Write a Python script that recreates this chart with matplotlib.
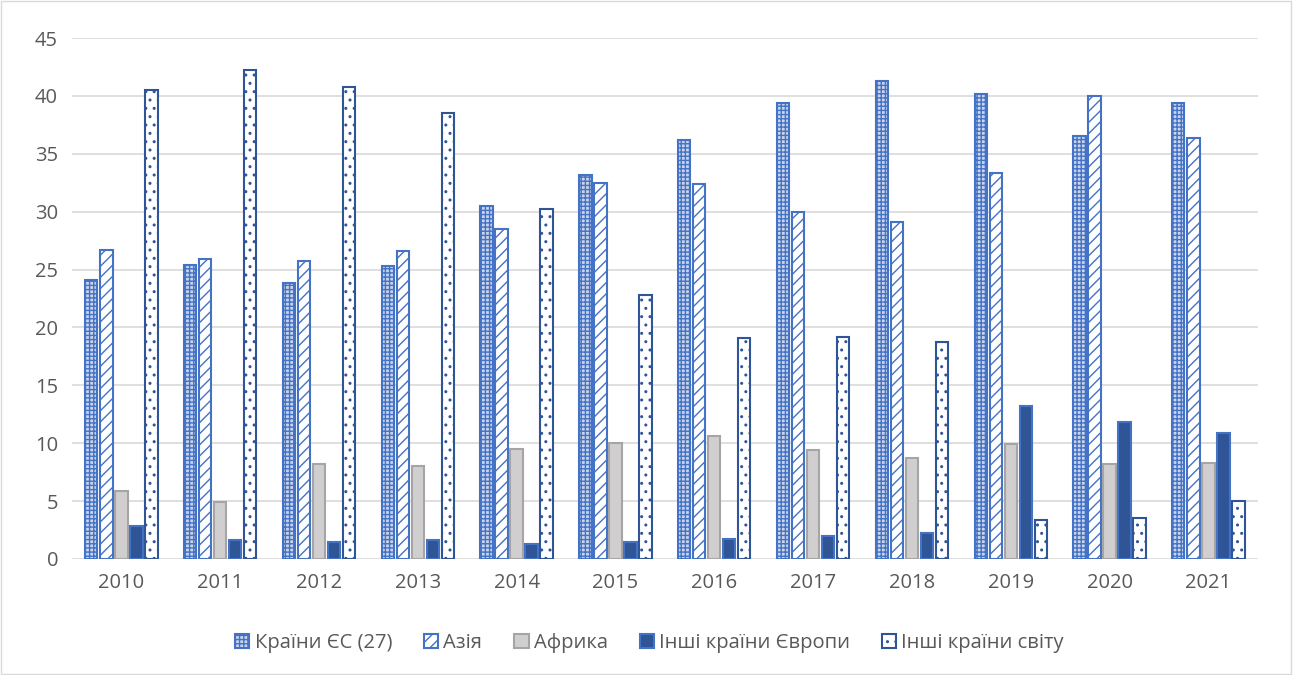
import matplotlib.pyplot as plt
import numpy as np
from matplotlib.patches import Rectangle

plt.rcParams['font.family'] = ['Open Sans', 'DejaVu Sans']
plt.rcParams['hatch.linewidth'] = 1.0

years = ['2010', '2011', '2012', '2013', '2014', '2015',
         '2016', '2017', '2018', '2019', '2020', '2021']

eu27 = [24.1, 25.4, 23.8, 25.3, 30.5, 33.2, 36.2, 39.4, 41.3, 40.2, 36.5, 39.4]
asia = [26.7, 25.9, 25.7, 26.6, 28.5, 32.5, 32.4, 30.0, 29.1, 33.3, 40.0, 36.4]
africa = [5.9, 4.9, 8.2, 8.0, 9.5, 10.0, 10.6, 9.4, 8.7, 9.9, 8.2, 8.3]
other_europe = [2.8, 1.6, 1.5, 1.6, 1.3, 1.5, 1.7, 2.0, 2.2, 13.2, 11.8, 10.9]
other_world = [40.5, 42.2, 40.8, 38.5, 30.2, 22.8, 19.1, 19.2, 18.7, 3.4, 3.5, 5.0]

series = [
    ('Країни ЄС (27)', eu27, dict(facecolor='#C9D5EE', edgecolor='#4472C4', hatch='++++')),
    ('Азія', asia, dict(facecolor='white', edgecolor='#4472C4', hatch='///')),
    ('Африка', africa, dict(facecolor='#D0CECE', edgecolor='#A5A5A5')),
    ('Інші країни Європи', other_europe, dict(facecolor='#2F5597', edgecolor='#4472C4')),
    ('Інші країни світу', other_world, dict(facecolor='white', edgecolor='#2F5597', hatch='..')),
]

fig = plt.figure(figsize=(12.94, 6.75), dpi=100)
ax = fig.add_axes([0.0556, 0.172, 0.9164, 0.7717])

x = np.arange(len(years))
step = 0.152
width = 0.125
for i, (name, vals, style) in enumerate(series):
    ax.bar(x + (i - 2) * step, vals, width, label=name, linewidth=1.5, zorder=3, **style)

ax.set_xlim(-0.5, len(years) - 0.5)
ax.set_ylim(0, 45)
ax.set_yticks(np.arange(0, 46, 5))
ax.set_xticks(x)
ax.set_xticklabels(years)
ax.tick_params(axis='both', length=0, labelsize=14.5, labelcolor='#595959')
ax.tick_params(axis='y', pad=10)
ax.tick_params(axis='x', pad=10)
ax.grid(axis='y', color='#D9D9D9', linewidth=1.2, zorder=0)
for s in ax.spines.values():
    s.set_visible(False)

ax.legend(loc='center', bbox_to_anchor=(0.502, 0.047), bbox_transform=fig.transFigure,
          ncol=5, frameon=False, fontsize=14.5, labelcolor='#595959',
          handlelength=0.7, handleheight=0.7, handletextpad=0.25, columnspacing=1.6)

fig.patches.append(Rectangle((0.001, 0.001), 0.997, 0.997, transform=fig.transFigure,
                             fill=False, edgecolor='#D9D9D9', linewidth=1))

fig.savefig('out.png', dpi=100)
